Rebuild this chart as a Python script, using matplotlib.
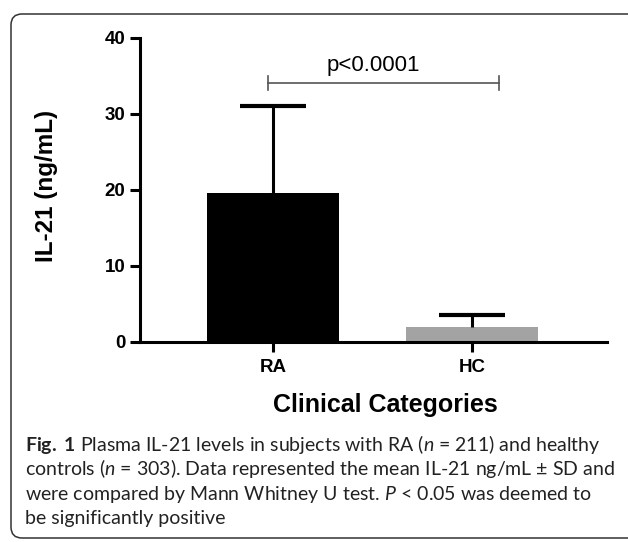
import matplotlib
matplotlib.use("Agg")
import matplotlib.pyplot as plt
from matplotlib.patches import FancyBboxPatch
from matplotlib.transforms import IdentityTransform

# data
categories = ["RA", "HC"]
means = [19.6, 2.0]
sds = [11.5, 1.6]
bar_colors = ["#000000", "#a3a3a3"]
yticks = [0, 10, 20, 30, 40]
p_label = "p<0.0001"
bracket_x = [-0.025, 1.136]
bracket_y = 34.1

caption = [
    r"$\bf{Fig.}$ $\bf{1}$ Plasma IL-21 levels in subjects with RA ($\it{n}$ = 211) and healthy",
    r"controls ($\it{n}$ = 303). Data represented the mean IL-21 ng/mL ± SD and",
    r"were compared by Mann Whitney U test. $\it{P}$ < 0.05 was deemed to",
    r"be significantly positive",
]

W, H = 628, 542
plt.rcParams["font.family"] = "Liberation Sans"
plt.rcParams["mathtext.fontset"] = "custom"
plt.rcParams["mathtext.rm"] = "Lato"
plt.rcParams["mathtext.it"] = "Lato:italic"
plt.rcParams["mathtext.bf"] = "Lato:bold"

fig = plt.figure(figsize=(W / 100, H / 100), dpi=100)

# rounded frame around figure + caption (runs off the right edge)
frame = FancyBboxPatch((11, H - 538), 720, 524,
                       boxstyle="round,pad=0,rounding_size=11",
                       fc="none", ec="#333333", lw=1.1,
                       transform=IdentityTransform())
fig.add_artist(frame)

ax = fig.add_axes([140 / W, 1 - 342 / H, (607 - 140) / W, (342 - 38) / H])
x = list(range(len(categories)))
tops = [m + s for m, s in zip(means, sds)]
ax.bar(x, means, width=0.66, color=bar_colors, zorder=2)
# one-sided SD bars: stem + cap
ax.vlines(x, means, tops, color="black", lw=2.2, zorder=3)
ax.hlines(tops, [i - 0.165 for i in x], [i + 0.165 for i in x], color="black", lw=3, zorder=3)

ax.set_xlim(-0.668, 1.678)
ax.set_ylim(0, 40)
ax.set_yticks(yticks)
ax.set_xticks(x)
ax.set_xticklabels(categories)
for s in ["top", "right"]:
    ax.spines[s].set_visible(False)
for s in ["left", "bottom"]:
    ax.spines[s].set_linewidth(2.2)
ax.tick_params(axis="both", length=7.2, width=2.2, labelsize=13.5)
ax.tick_params(axis="y", pad=3.5)
ax.tick_params(axis="x", pad=5)
for lab in ax.get_xticklabels() + ax.get_yticklabels():
    lab.set_fontweight("bold")

# significance bracket
ax.plot(bracket_x, [bracket_y, bracket_y], color="#555555", lw=1.2, zorder=4)
for bx in bracket_x:
    ax.plot([bx, bx], [bracket_y - 0.9, bracket_y + 0.9], color="#555555", lw=1.2)
ax.text(sum(bracket_x) / 2 - 0.05, 36.4, p_label, ha="center", va="center", fontsize=16)

fig.text(47 / W, 1 - 186 / H, "IL-21 (ng/mL)", rotation=90, ha="center", va="center",
         fontsize=17.5, fontweight="bold")
fig.text(385 / W, 1 - 405 / H, "Clinical Categories", ha="center", va="center",
         fontsize=18, fontweight="bold")

baselines = [451, 475, 500, 524]
for line, yb in zip(caption, baselines):
    fig.text(25 / W, 1 - yb / H, line, ha="left", va="baseline", fontsize=14,
             family="Lato", color="#222222")

fig.savefig("out.png", dpi=100)
